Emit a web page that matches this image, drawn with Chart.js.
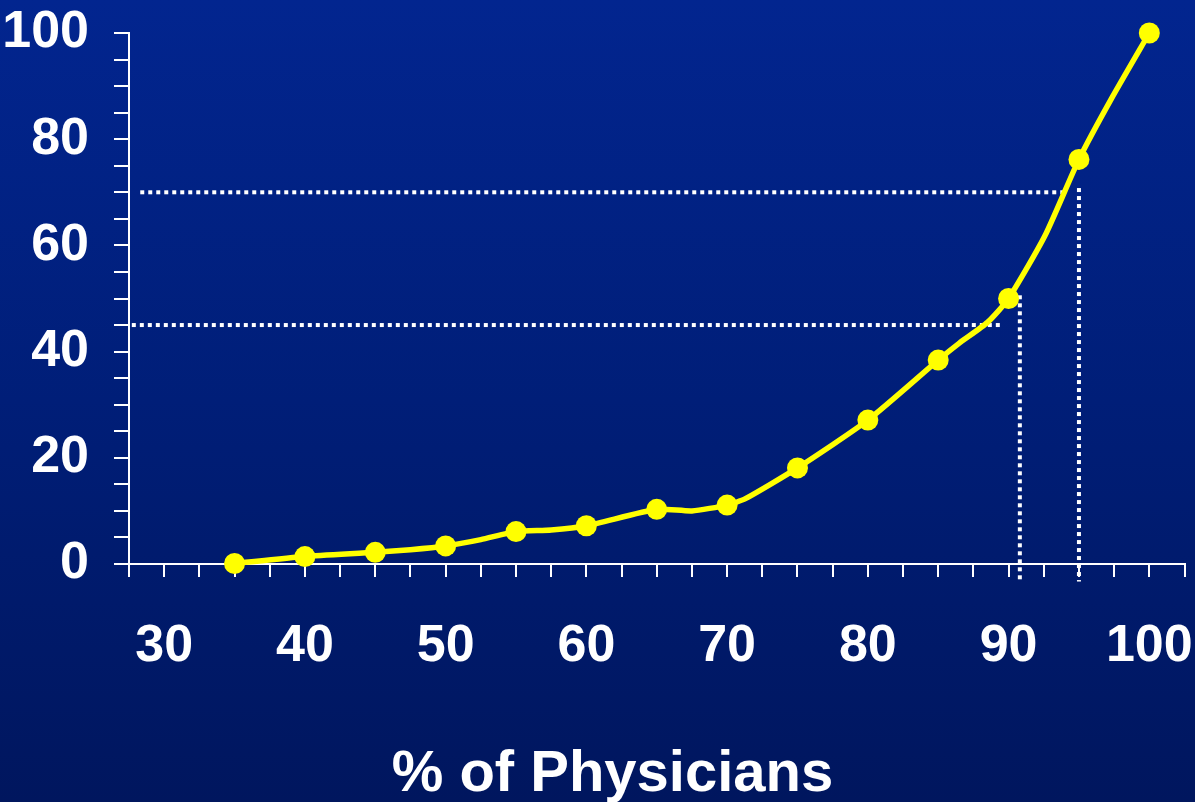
<!DOCTYPE html>
<html>
<head>
<meta charset="utf-8">
<script src="https://cdn.jsdelivr.net/npm/chart.js@4.4.1/dist/chart.umd.min.js"></script>
<style>
  html, body { margin: 0; padding: 0; background: #001c72; }
  canvas { display: block; }
</style>
</head>
<body>
<canvas id="curveChart" width="1195" height="802"></canvas>
<script>
// curve: % of physicians (x) against cumulative value (y)
const physPct  = [35, 40, 45, 47.5, 50, 52.5, 55, 57.5, 60, 65, 67.5, 70, 71.3, 75, 80, 85, 86.5, 88.5, 90, 92.6, 95, 97.3, 100];
const cumValue = [0.1, 1.4, 2.2, 2.7, 3.4, 4.6, 6.1, 6.4, 7.2, 10.3, 10.0, 11.1, 12.3, 18.1, 27.1, 38.4, 41.6, 45.5, 50, 61.9, 76.2, 87.6, 100];
// only these get a dot
const markedPct = [35, 40, 45, 50, 55, 60, 65, 70, 75, 80, 85, 90, 95, 100];

// dotted guide lines, [start, end]
const guideA_x = [28.3, 93.9];  const guideA_y = [70, 70];
const guideB_x = [95, 95];      const guideB_y = [70.8, -3.3];
const guideC_x = [27.7, 89.6];  const guideC_y = [45, 45];
const guideD_x = [90.8, 90.8];  const guideD_y = [50.6, -3.3];

const xLabels = [30, 40, 50, 60, 70, 80, 90, 100];
const yLabels = [0, 20, 40, 60, 80, 100];

const pairs = (xs, ys) => xs.map((x, i) => ({ x: x, y: ys[i] }));

const guide = (xs, ys) => ({
    data: pairs(xs, ys),
    borderColor: "#ffffff",
    borderWidth: 4,
    borderDash: [4, 4],
    pointRadius: 0,
    fill: false,
    clip: false,
    order: 2
});

const slideBackground = {
    id: "slideBackground",
    beforeDraw(chart) {
        const { ctx, width, height } = chart;
        const g = ctx.createLinearGradient(0, 0, 0, height);
        g.addColorStop(0, "#02258f");
        g.addColorStop(0.5, "#001e78");
        g.addColorStop(1, "#00165e");
        ctx.save();
        ctx.fillStyle = g;
        ctx.fillRect(0, 0, width, height);
        ctx.restore();
    }
};

const tickFont = { family: "'Liberation Sans', Arial, sans-serif", size: 52, weight: "bold" };

new Chart(document.getElementById("curveChart"), {
    type: "line",
    data: {
        datasets: [
            {
                data: pairs(physPct, cumValue),
                borderColor: "#ffff00",
                backgroundColor: "#ffff00",
                borderWidth: 5.5,
                tension: 0.2,
                pointRadius: ctx => markedPct.includes(ctx.raw.x) ? 10.5 : 0,
                pointHoverRadius: 10.5,
                pointBorderWidth: 0,
                fill: false,
                clip: false,
                order: 1
            },
            guide(guideA_x, guideA_y),
            guide(guideB_x, guideB_y),
            guide(guideC_x, guideC_y),
            guide(guideD_x, guideD_y)
        ]
    },
    options: {
        responsive: false,
        animation: false,
        events: [],
        layout: {
            padding: { left: 0, right: -30, top: 0, bottom: 0 }
        },
        plugins: {
            legend: { display: false },
            tooltip: { enabled: false },
            title: {
                display: true,
                position: "bottom",
                text: "% of Physicians",
                color: "#ffffff",
                font: { family: "'Liberation Sans', Arial, sans-serif", size: 58, weight: "bold", lineHeight: 1 },
                padding: { top: 70, bottom: -2 }
            }
        },
        scales: {
            x: {
                type: "linear",
                min: 27.5,
                max: 102.5,
                border: { display: true, color: "#ffffff", width: 2 },
                grid: {
                    drawOnChartArea: false,
                    drawTicks: true,
                    tickLength: 13,
                    color: "#ffffff",
                    lineWidth: 2
                },
                ticks: {
                    stepSize: 2.5,
                    autoSkip: false,
                    maxRotation: 0,
                    color: "#ffffff",
                    font: tickFont,
                    padding: 38,
                    callback: v => xLabels.includes(v) ? String(v) : ""
                },
                afterFit: scale => {
                    scale.height = 112;
                    scale.paddingLeft = 0;
                    scale.paddingRight = 10;
                }
            },
            y: {
                min: 0,
                max: 100,
                border: { display: true, color: "#ffffff", width: 2 },
                grid: {
                    drawOnChartArea: false,
                    drawTicks: true,
                    tickLength: 15,
                    color: "#ffffff",
                    lineWidth: 2
                },
                ticks: {
                    stepSize: 5,
                    autoSkip: false,
                    color: "#ffffff",
                    font: tickFont,
                    padding: 25,
                    callback: v => yLabels.includes(v) ? String(v) : ""
                },
                afterFit: scale => {
                    scale.width = 129;
                    scale.paddingTop = 33;
                    scale.paddingBottom = 0;
                }
            }
        }
    },
    plugins: [slideBackground]
});
</script>
</body>
</html>
